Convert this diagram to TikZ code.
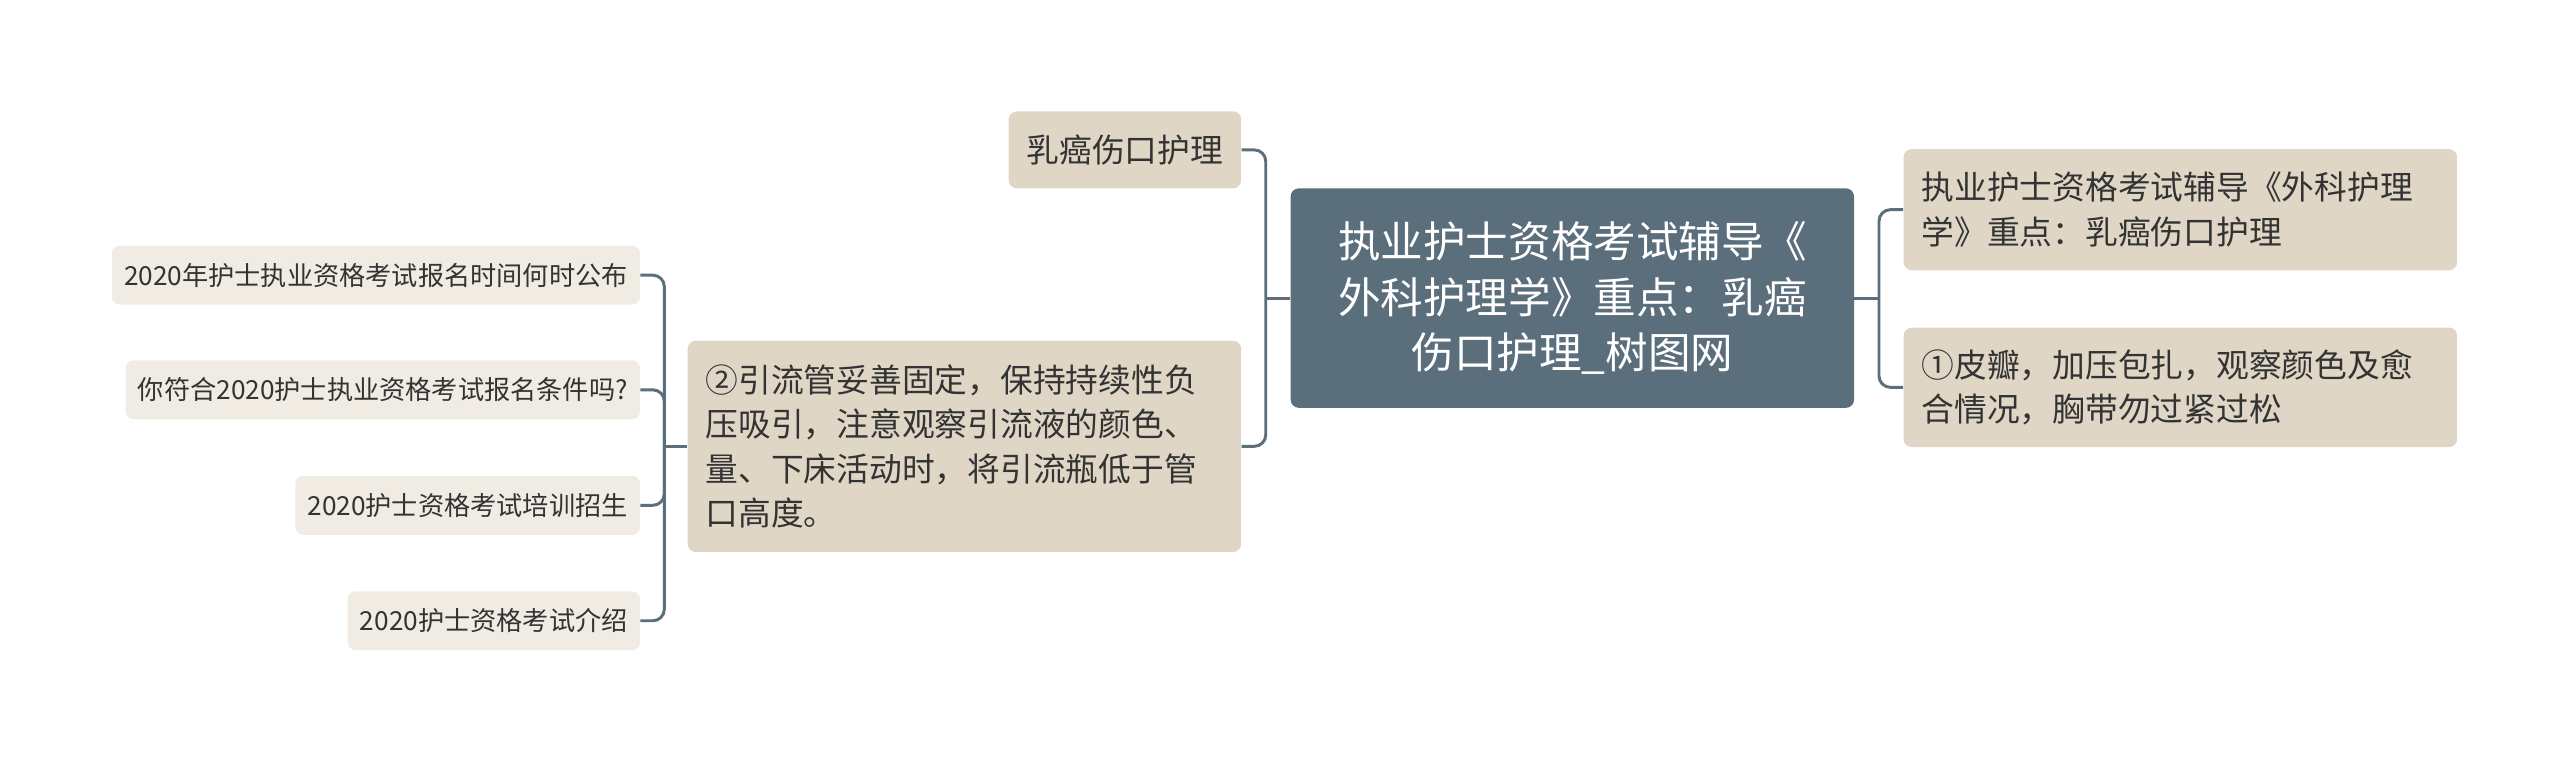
\documentclass[tikz,border=0pt]{standalone}
\usepackage{fontspec}
\setmainfont{Noto Sans CJK SC}
\usepackage{tikz}
\usetikzlibrary{positioning}
\definecolor{slate}{HTML}{5B6E7B}
\definecolor{sand}{HTML}{E0D6C6}
\definecolor{paper}{HTML}{F0ECE4}
\definecolor{ink}{HTML}{333333}

\begin{document}
\begin{tikzpicture}[x=1pt,y=-1pt,
	root/.style={fill=slate,rounded corners=5pt,text=white,align=center,minimum width=344pt,minimum height=134pt,inner sep=0pt,font=\fontsize{26}{34}\selectfont},
	topic/.style={fill=sand,rounded corners=5pt,text=ink,align=left,inner xsep=11pt,inner ysep=0pt,font=\fontsize{20}{27}\selectfont},
	leaf/.style={fill=paper,rounded corners=5pt,text=ink,inner xsep=7.5pt,inner ysep=0pt,minimum height=36pt,font=\fontsize{16}{20}\selectfont},
	link/.style={draw=slate,line width=1.8pt,rounded corners=7pt}]
	\useasboundingbox (0,0) rectangle (1563,463.4);
	\node[root] (root) at (960,182) {执业护士资格考试辅导《\\外科护理学》重点：乳癌\\伤口护理\_树图网};
	\node[topic,anchor=west,text width=316pt,minimum height=74pt] (exam) at (1162,128) {执业护士资格考试辅导《外科护理\\学》重点：乳癌伤口护理};
	\node[topic,anchor=west,text width=316pt,minimum height=73pt] (flap) at (1162,236.5) {①皮瓣，加压包扎，观察颜色及愈\\合情况，胸带勿过紧过松};
	\node[topic,anchor=east,minimum height=47pt] (care) at (758,91.5) {乳癌伤口护理};
	\node[topic,anchor=east,text width=316pt,minimum height=129pt] (drain) at (758,272.5) {②引流管妥善固定，保持持续性负\\压吸引，注意观察引流液的颜色、\\量、下床活动时，将引流瓶低于管\\口高度。};
	\node[leaf,anchor=east] (date) at (391,168) {2020年护士执业资格考试报名时间何时公布};
	\node[leaf,anchor=east] (cond) at (391,238) {你符合2020护士执业资格考试报名条件吗?};
	\node[leaf,anchor=east] (train) at (391,308.5) {2020护士资格考试培训招生};
	\node[leaf,anchor=east] (intro) at (391,379) {2020护士资格考试介绍};
	% junctions
	\coordinate[right=15pt of root.east] (jr);
	\coordinate[left=15pt of root.west] (jl);
	\coordinate[left=14pt of drain.west] (jd);
	\draw[link] (root.east) -- (jr);
	\draw[link] (jr) |- (exam.west);
	\draw[link] (jr) |- (flap.west);
	\draw[link] (root.west) -- (jl);
	\draw[link] (jl) |- (care.east);
	\draw[link] (jl) |- (drain.east);
	\draw[link] (drain.west) -- (jd);
	\foreach \leafname in {date,cond,train,intro}
		\draw[link] (jd) |- (\leafname.east);
\end{tikzpicture}
\end{document}
